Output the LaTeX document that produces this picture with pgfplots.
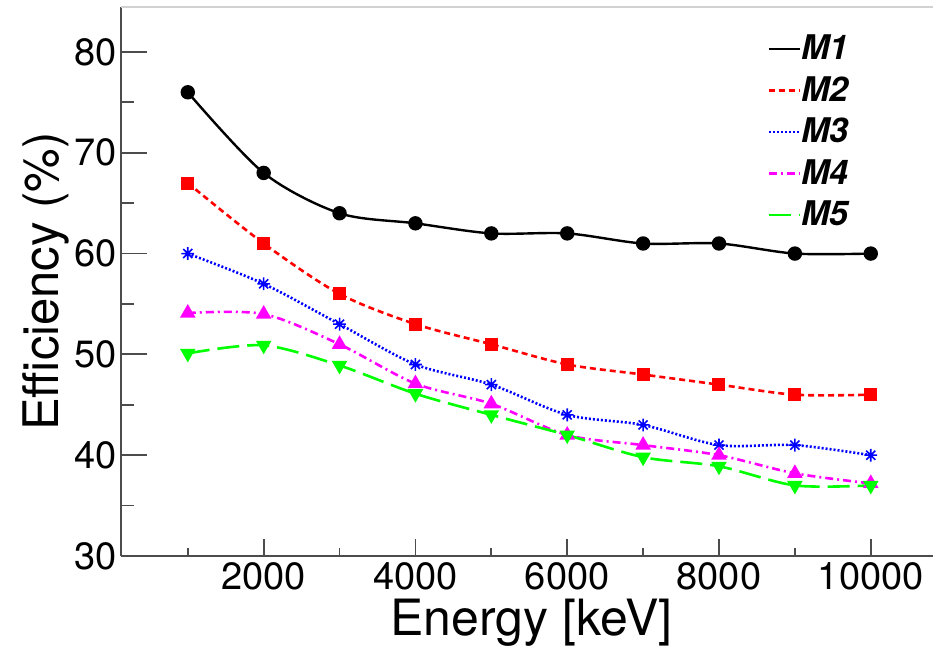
\documentclass[border=0pt]{standalone}
\usepackage{fontspec}
\setmainfont{TeX Gyre Heros}
\usepackage{pgfplots}
\pgfplotsset{compat=1.18}

\definecolor{rmagenta}{rgb}{1,0,1}
\definecolor{rgreen}{rgb}{0,1,0}

% ROOT-style asterisk: a + laid over an x
\pgfdeclareplotmark{rstar}{%
  \pgfpathmoveto{\pgfqpoint{-\pgfplotmarksize}{0pt}}%
  \pgfpathlineto{\pgfqpoint{\pgfplotmarksize}{0pt}}%
  \pgfpathmoveto{\pgfqpoint{0pt}{-\pgfplotmarksize}}%
  \pgfpathlineto{\pgfqpoint{0pt}{\pgfplotmarksize}}%
  \pgfpathmoveto{\pgfqpoint{-.707\pgfplotmarksize}{-.707\pgfplotmarksize}}%
  \pgfpathlineto{\pgfqpoint{.707\pgfplotmarksize}{.707\pgfplotmarksize}}%
  \pgfpathmoveto{\pgfqpoint{-.707\pgfplotmarksize}{.707\pgfplotmarksize}}%
  \pgfpathlineto{\pgfqpoint{.707\pgfplotmarksize}{-.707\pgfplotmarksize}}%
  \pgfusepathqstroke}

\newcommand{\tickfont}{\fontsize{19}{22}\selectfont}

\begin{document}
\begin{tikzpicture}
% main axis: y ticks, curves, legend
\begin{axis}[
    scale only axis,
    width=406pt, height=274.5pt,
    xmin=120, xmax=10820,
    ymin=30, ymax=84.46,
    axis x line*=bottom,
    axis y line*=left,
    axis line style={black!70, line width=0.9pt},
    tick align=inside,
    xtick=\empty,
    ytick={30,40,...,80},
    minor ytick={35,45,...,75},
    major tick length=13pt,
    minor tick length=6.5pt,
    tick style={black!70, line width=0.9pt},
    /pgf/number format/assume math mode=true,
    yticklabel style={font=\tickfont, inner sep=0pt, xshift=-2pt},
    ylabel={Efficiency (\%)},
    ylabel style={at={(axis description cs:-0.092,0.5)}, anchor=center,
        font=\fontsize{24.5}{28}\selectfont},
    clip=false,
    legend style={
        at={(axis description cs:0.7956,0.95)}, anchor=north west,
        draw=none, fill=none, inner sep=0pt,
        font=\fontsize{17}{20}\selectfont\bfseries\itshape,
        nodes={inner sep=0pt},
        row sep=6.9pt,
    },
    legend cell align=left,
    legend image code/.code={\draw[mark=none,#1] (0pt,0pt) -- (15.5pt,0pt);},
]
\draw[black!18, line width=1pt] (rel axis cs:0,1) -- (rel axis cs:1,1);

\addplot[black, line width=1.2pt, smooth, mark=*, mark size=3pt, mark options={solid}]
coordinates {
    (1000,76) (2000,68) (3000,64) (4000,63) (5000,62)
    (6000,62) (7000,61) (8000,61) (9000,60) (10000,60)
};
\addlegendentry{M1}

\addplot[red, line width=1.3pt, smooth, dash pattern=on 3pt off 2pt,
    mark=square*, mark size=2.6pt, mark options={solid}]
coordinates {
    (1000,67) (2000,61) (3000,56) (4000,53) (5000,51)
    (6000,49) (7000,48) (8000,47) (9000,46) (10000,46)
};
\addlegendentry{M2}

\addplot[blue, line width=1.3pt, smooth, dash pattern=on 1pt off 1pt,
    mark=rstar, mark size=3.2pt, mark options={solid, line width=0.8pt}]
coordinates {
    (1000,60) (2000,57) (3000,53) (4000,49) (5000,47)
    (6000,44) (7000,43) (8000,41) (9000,41) (10000,40)
};
\addlegendentry{M3}

\addplot[rmagenta, line width=1.3pt, smooth, dash pattern=on 4pt off 2pt on 1pt off 2pt,
    mark=triangle*, mark size=3.2pt, mark options={solid}]
coordinates {
    (1000,54.1) (2000,54) (3000,51) (4000,47.1) (5000,45.1)
    (6000,42) (7000,41) (8000,40) (9000,38.2) (10000,37.2)
};
\addlegendentry{M4}

\addplot[rgreen, line width=1.3pt, smooth, dash pattern=on 11pt off 4pt,
    mark=triangle*, mark size=3.2pt, mark options={solid, rotate=180}]
coordinates {
    (1000,50.1) (2000,50.9) (3000,48.9) (4000,46.1) (5000,44)
    (6000,42) (7000,39.8) (8000,38.9) (9000,37) (10000,37)
};
\addlegendentry{M5}
\end{axis}

% overlay axis: x ticks with their own lengths, x label
\begin{axis}[
    scale only axis,
    width=406pt, height=274.5pt,
    xmin=120, xmax=10820,
    ymin=30, ymax=84.46,
    axis x line*=bottom,
    hide y axis,
    axis line style={black!70, line width=0.9pt},
    tick align=inside,
    xtick={2000,4000,...,10000},
    minor xtick={1000,3000,...,9000},
    major tick length=8.5pt,
    minor tick length=4pt,
    tick style={black!70, line width=0.9pt},
    scaled x ticks=false,
    /pgf/number format/1000 sep={},
    /pgf/number format/assume math mode=true,
    xticklabel style={font=\tickfont, inner sep=0pt, yshift=-3pt},
    xlabel={Energy [keV]},
    xlabel style={at={(axis description cs:0.5055,-0.1445)}, anchor=base,
        font=\fontsize{25}{29}\selectfont},
]
\end{axis}

\pgfresetboundingbox
\path ([xshift=-60.5pt,yshift=-46.5pt]current axis.south west)
    rectangle ([yshift=3.5pt]current axis.north east);
\end{tikzpicture}
\end{document}
